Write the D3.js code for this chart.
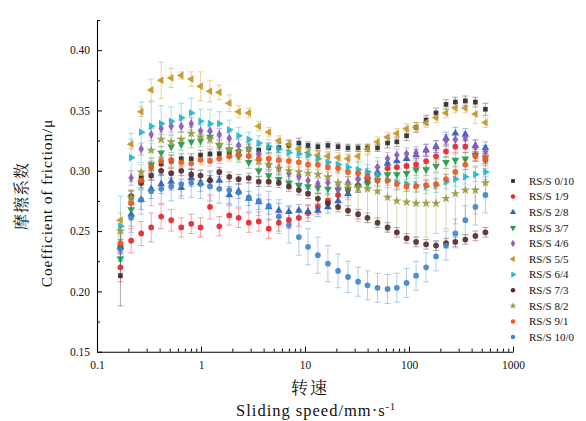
<!DOCTYPE html>
<html><head><meta charset="utf-8">
<script src="https://cdn.jsdelivr.net/npm/d3@7"></script>
<style>
body{margin:0;background:#fff;}
svg{display:block;}
text{font-family:"Liberation Serif","Times New Roman",serif;fill:#111;}
.cjk{font-family:"Noto Serif CJK SC","Noto Sans CJK SC",sans-serif;}
</style></head>
<body>
<svg id="chart" width="586" height="421"></svg>
<script>
// ---- data ----
const speeds = [0.168,0.213,0.266,0.332,0.414,0.517,0.646,0.806,0.99,1.22,1.50,1.87,2.30,2.88,3.59,4.48,5.60,7.00,8.73,10.7,13.3,16.6,20.8,25.9,32.4,39.9,49.8,62.2,76.4,94.8,117,146,182,227,279,348,435,543];
const seriesNames = ["RS/S 0/10","RS/S 1/9","RS/S 2/8","RS/S 3/7","RS/S 4/6","RS/S 5/5","RS/S 6/4","RS/S 7/3","RS/S 8/2","RS/S 9/1","RS/S 10/0"];
const mu_0_10 = [0.213,0.278,0.294,0.303,0.306,0.308,0.310,0.310,0.313,0.314,0.314,0.315,0.316,0.318,0.317,0.319,0.319,0.321,0.323,0.321,0.320,0.321,0.320,0.319,0.319,0.319,0.319,0.323,0.324,0.329,0.336,0.342,0.348,0.355,0.357,0.358,0.357,0.351];
const mu_1_9  = [0.220,0.242,0.248,0.253,0.262,0.259,0.253,0.256,0.253,0.270,0.254,0.263,0.261,0.257,0.258,0.252,0.257,0.259,0.261,0.265,0.270,0.275,0.280,0.284,0.288,0.292,0.297,0.302,0.303,0.304,0.305,0.308,0.312,0.316,0.320,0.320,0.313,0.309];
const mu_2_8  = [0.237,0.264,0.276,0.285,0.289,0.291,0.286,0.294,0.290,0.293,0.292,0.280,0.283,0.277,0.274,0.270,0.267,0.266,0.267,0.266,0.267,0.270,0.275,0.281,0.288,0.295,0.299,0.306,0.308,0.310,0.313,0.317,0.320,0.327,0.331,0.330,0.321,0.319];
const mu_3_7  = [0.227,0.268,0.290,0.305,0.315,0.320,0.322,0.324,0.325,0.328,0.321,0.317,0.312,0.307,0.300,0.296,0.293,0.290,0.288,0.287,0.286,0.285,0.284,0.285,0.287,0.289,0.292,0.297,0.297,0.298,0.301,0.301,0.304,0.307,0.309,0.310,0.313,0.311];
const mu_4_6  = [0.240,0.294,0.318,0.330,0.335,0.337,0.337,0.339,0.333,0.333,0.330,0.327,0.321,0.318,0.314,0.305,0.302,0.298,0.295,0.292,0.289,0.290,0.285,0.290,0.293,0.297,0.303,0.310,0.313,0.314,0.315,0.317,0.320,0.325,0.326,0.327,0.320,0.316];
const mu_5_5  = [0.259,0.322,0.349,0.367,0.375,0.377,0.379,0.376,0.370,0.366,0.365,0.356,0.349,0.348,0.337,0.332,0.325,0.322,0.318,0.315,0.313,0.312,0.311,0.310,0.312,0.318,0.324,0.328,0.331,0.335,0.336,0.340,0.344,0.348,0.352,0.352,0.347,0.340];
const mu_6_4  = [0.254,0.311,0.332,0.337,0.339,0.341,0.344,0.348,0.341,0.339,0.339,0.334,0.329,0.326,0.323,0.320,0.318,0.315,0.314,0.313,0.310,0.307,0.305,0.303,0.301,0.299,0.297,0.292,0.290,0.289,0.288,0.287,0.288,0.291,0.293,0.295,0.297,0.299];
const mu_7_3  = [0.237,0.279,0.290,0.296,0.300,0.298,0.300,0.297,0.296,0.292,0.299,0.295,0.293,0.294,0.291,0.291,0.290,0.287,0.284,0.281,0.277,0.273,0.270,0.267,0.264,0.261,0.257,0.253,0.249,0.244,0.241,0.239,0.238,0.240,0.241,0.243,0.246,0.249];
const mu_8_2  = [0.250,0.278,0.299,0.317,0.326,0.324,0.326,0.331,0.328,0.326,0.322,0.318,0.316,0.318,0.308,0.305,0.302,0.300,0.299,0.298,0.297,0.295,0.290,0.288,0.286,0.285,0.283,0.278,0.275,0.274,0.273,0.273,0.273,0.277,0.281,0.284,0.284,0.290];
const mu_9_1  = [0.240,0.273,0.292,0.303,0.308,0.309,0.307,0.306,0.309,0.308,0.310,0.312,0.313,0.312,0.310,0.310,0.309,0.308,0.307,0.305,0.305,0.303,0.302,0.299,0.298,0.295,0.292,0.292,0.289,0.287,0.287,0.288,0.289,0.293,0.299,0.305,0.312,0.310];
const mu_10_0 = [0.235,0.261,0.276,0.283,0.285,0.287,0.289,0.290,0.289,0.287,0.285,0.284,0.282,0.278,0.275,0.271,0.262,0.255,0.245,0.237,0.230,0.223,0.217,0.212,0.208,0.205,0.203,0.202,0.203,0.207,0.213,0.220,0.229,0.238,0.248,0.259,0.270,0.280];

const err_0_10 = [0.025,0.006,0.005,0.005,0.005,0.005,0.004,0.004,0.004,0.004,0.004,0.004,0.004,0.004,0.004,0.004,0.004,0.004,0.004,0.003,0.003,0.003,0.003,0.003,0.003,0.003,0.003,0.004,0.004,0.004,0.004,0.004,0.004,0.004,0.004,0.004,0.004,0.005];
const err_1_9  = [0.012,0.010,0.010,0.012,0.010,0.009,0.008,0.008,0.008,0.010,0.008,0.008,0.008,0.008,0.008,0.008,0.007,0.007,0.007,0.007,0.006,0.006,0.006,0.006,0.006,0.006,0.006,0.005,0.005,0.005,0.005,0.005,0.005,0.005,0.005,0.005,0.005,0.005];
const err_2_8  = [0.012,0.010,0.008,0.008,0.008,0.007,0.007,0.007,0.007,0.007,0.007,0.007,0.006,0.006,0.006,0.006,0.006,0.005,0.005,0.005,0.005,0.005,0.005,0.005,0.005,0.005,0.005,0.005,0.005,0.005,0.005,0.005,0.005,0.005,0.005,0.005,0.005,0.005];
const err_3_7  = [0.008,0.006,0.005,0.005,0.005,0.005,0.005,0.005,0.005,0.005,0.005,0.005,0.005,0.005,0.005,0.005,0.005,0.005,0.005,0.005,0.005,0.005,0.005,0.005,0.005,0.005,0.005,0.005,0.005,0.005,0.005,0.005,0.005,0.005,0.005,0.005,0.005,0.005];
const err_4_6  = [0.008,0.006,0.005,0.005,0.005,0.005,0.005,0.005,0.005,0.005,0.005,0.005,0.005,0.005,0.005,0.005,0.005,0.005,0.005,0.005,0.005,0.005,0.005,0.005,0.005,0.005,0.005,0.005,0.005,0.005,0.005,0.005,0.005,0.005,0.005,0.005,0.005,0.005];
const err_5_5  = [0.006,0.004,0.004,0.009,0.015,0.008,0.003,0.006,0.012,0.009,0.006,0.007,0.005,0.004,0.004,0.004,0.004,0.004,0.004,0.004,0.004,0.004,0.004,0.004,0.004,0.004,0.004,0.004,0.004,0.004,0.004,0.004,0.004,0.004,0.004,0.004,0.008,0.004];
const err_6_4  = [0.025,0.020,0.025,0.020,0.015,0.012,0.012,0.012,0.010,0.012,0.010,0.008,0.007,0.006,0.006,0.006,0.006,0.006,0.006,0.006,0.006,0.006,0.006,0.006,0.006,0.006,0.006,0.006,0.006,0.006,0.006,0.006,0.006,0.006,0.006,0.006,0.006,0.006];
const err_7_3  = [0.006,0.004,0.004,0.004,0.004,0.004,0.004,0.004,0.004,0.004,0.004,0.004,0.004,0.004,0.004,0.004,0.004,0.004,0.004,0.004,0.004,0.004,0.004,0.004,0.004,0.004,0.004,0.004,0.004,0.004,0.004,0.004,0.004,0.004,0.004,0.004,0.004,0.004];
const err_8_2  = [0.006,0.006,0.006,0.006,0.006,0.006,0.006,0.006,0.006,0.006,0.006,0.006,0.006,0.006,0.006,0.006,0.006,0.010,0.012,0.015,0.015,0.020,0.022,0.025,0.028,0.028,0.028,0.028,0.028,0.028,0.028,0.028,0.025,0.025,0.025,0.025,0.020,0.012];
const err_9_1  = [0.006,0.004,0.004,0.004,0.004,0.004,0.004,0.004,0.004,0.004,0.004,0.004,0.004,0.004,0.004,0.004,0.004,0.004,0.004,0.004,0.004,0.004,0.004,0.004,0.004,0.004,0.004,0.004,0.004,0.004,0.004,0.004,0.004,0.004,0.004,0.004,0.004,0.004];
const err_10_0 = [0.020,0.012,0.012,0.012,0.012,0.012,0.012,0.012,0.012,0.012,0.012,0.012,0.012,0.012,0.012,0.012,0.014,0.015,0.015,0.015,0.015,0.015,0.014,0.013,0.012,0.012,0.012,0.012,0.012,0.012,0.012,0.012,0.012,0.012,0.012,0.012,0.015,0.015];

const xTickValues = [0.1,1,10,100,1000];
const xTickLabels = ["0.1","1","10","100","1000"];
const yTickValues = [0.15,0.20,0.25,0.30,0.35,0.40];
const yTickLabels = ["0.15","0.20","0.25","0.30","0.35","0.40"];

// styles (kept apart from data)
const colors = ["#2b2b2b","#e8262b","#2b5fb8","#1f9a4c","#8f5ab8","#c89520","#1fb8cc","#5a2b2b","#9a9a40","#f25a1e","#3f85cc"];
const shapes = ["square","circle","triUp","triDown","diamond","triLeft","triRight","circle","star","circle","circle"];

const muAll = [mu_0_10,mu_1_9,mu_2_8,mu_3_7,mu_4_6,mu_5_5,mu_6_4,mu_7_3,mu_8_2,mu_9_1,mu_10_0];
const errAll = [err_0_10,err_1_9,err_2_8,err_3_7,err_4_6,err_5_5,err_6_4,err_7_3,err_8_2,err_9_1,err_10_0];

// ---- drawing ----
const svg = d3.select("#chart");
const x = d3.scaleLog().domain([0.1,1000]).range([97,513]);
const y = d3.scaleLinear().domain([0.15,0.425]).range([351.7,20]);

function symPath(shape, size){
  const map = {square:d3.symbolSquare, circle:d3.symbolCircle, triUp:d3.symbolTriangle, triDown:d3.symbolTriangle,
               diamond:d3.symbolDiamond, triLeft:d3.symbolTriangle, triRight:d3.symbolTriangle, star:d3.symbolStar};
  return d3.symbol().type(map[shape]).size(size)();
}
function symRot(shape){
  return {triDown:180, triLeft:-90, triRight:90}[shape] || 0;
}

const plot = svg.append("g");
seriesNames.forEach((name, si) => {
  const pts = speeds.map((s,i)=>({s, v:muAll[si][i], e:errAll[si][i]}));
  const g = plot.append("g");
  const eb = g.append("g").attr("stroke", colors[si]).attr("stroke-opacity",0.4).attr("stroke-width",1);
  pts.forEach(p=>{
    const cx = x(p.s), y1 = y(p.v+p.e), y2 = y(p.v-p.e);
    eb.append("line").attr("x1",cx).attr("x2",cx).attr("y1",y1).attr("y2",y2);
    eb.append("line").attr("x1",cx-3).attr("x2",cx+3).attr("y1",y1).attr("y2",y1);
    eb.append("line").attr("x1",cx-3).attr("x2",cx+3).attr("y1",y2).attr("y2",y2);
  });
});
seriesNames.forEach((name, si) => {
  const g = plot.append("g");
  const sz = shapes[si]==="star" ? 28 : (shapes[si]==="square" ? 22 : 26);
  speeds.forEach((s,i)=>{
    g.append("path").attr("d", symPath(shapes[si], sz))
     .attr("transform", `translate(${x(s)},${y(muAll[si][i])}) rotate(${symRot(shapes[si])})`)
     .attr("fill", colors[si]).attr("fill-opacity",0.92);
  });
});

// axes
const xAxis = d3.axisBottom(x).tickValues(xTickValues).tickFormat((d,i)=>xTickLabels[i]).tickSizeInner(-5).tickSizeOuter(0).tickPadding(9);
const gx = svg.append("g").attr("transform","translate(0,351.7)").call(xAxis);
const minorX = [];
[0.1,1,10,100].forEach(dec=>{ for(let k=2;k<=9;k++) minorX.push(dec*k); });
svg.append("g").attr("transform","translate(0,351.7)")
  .call(d3.axisBottom(x).tickValues(minorX).tickFormat("").tickSizeInner(-3).tickSizeOuter(0))
  .call(g=>g.select(".domain").remove());

const yAxis = d3.axisLeft(y).tickValues(yTickValues).tickFormat((d,i)=>yTickLabels[i]).tickSizeInner(-5).tickSizeOuter(0).tickPadding(7);
const gy = svg.append("g").attr("transform","translate(97,0)").call(yAxis);
svg.append("g").attr("transform","translate(97,0)")
  .call(d3.axisLeft(y).tickValues([0.175,0.225,0.275,0.325,0.375,0.425]).tickFormat("").tickSizeInner(-3).tickSizeOuter(0))
  .call(g=>g.select(".domain").remove());

svg.selectAll(".domain").attr("stroke","#000").attr("stroke-width",1.1);
svg.selectAll(".tick line").attr("stroke","#000");
gx.selectAll("text").attr("font-size",11.5).attr("font-family","Liberation Serif, serif").attr("fill","#111");
gy.selectAll("text").attr("font-size",11.5).attr("font-family","Liberation Serif, serif").attr("fill","#111");

// axis titles
svg.append("text").attr("class","cjk").attr("x",310).attr("y",394).attr("text-anchor","middle").attr("font-size",17).attr("letter-spacing",2).text("转速");
const xt = svg.append("text").attr("x",316).attr("y",416).attr("text-anchor","middle").attr("font-size",16.5).attr("letter-spacing",1);
xt.append("tspan").text("Sliding  speed/mm·s");
xt.append("tspan").attr("dy",-6).attr("font-size",10).text("-1");

svg.append("text").attr("class","cjk").attr("transform","translate(27,196) rotate(-90)").attr("text-anchor","middle").attr("font-size",16).attr("letter-spacing",1).text("摩擦系数");
svg.append("text").attr("transform","translate(52,203) rotate(-90)").attr("text-anchor","middle").attr("font-size",15.5).attr("letter-spacing",0.8).text("Coefficient  of  friction/μ");

// legend
const leg = svg.append("g");
seriesNames.forEach((name, si)=>{
  const ly = 181 + si*15.6;
  leg.append("path").attr("d", symPath(shapes[si], shapes[si]==="square"?14:16))
    .attr("transform",`translate(513,${ly}) rotate(${symRot(shapes[si])})`).attr("fill",colors[si]);
  leg.append("text").attr("x",529).attr("y",ly+3.8).attr("font-size",11).text(name);
});
</script>
</body></html>
